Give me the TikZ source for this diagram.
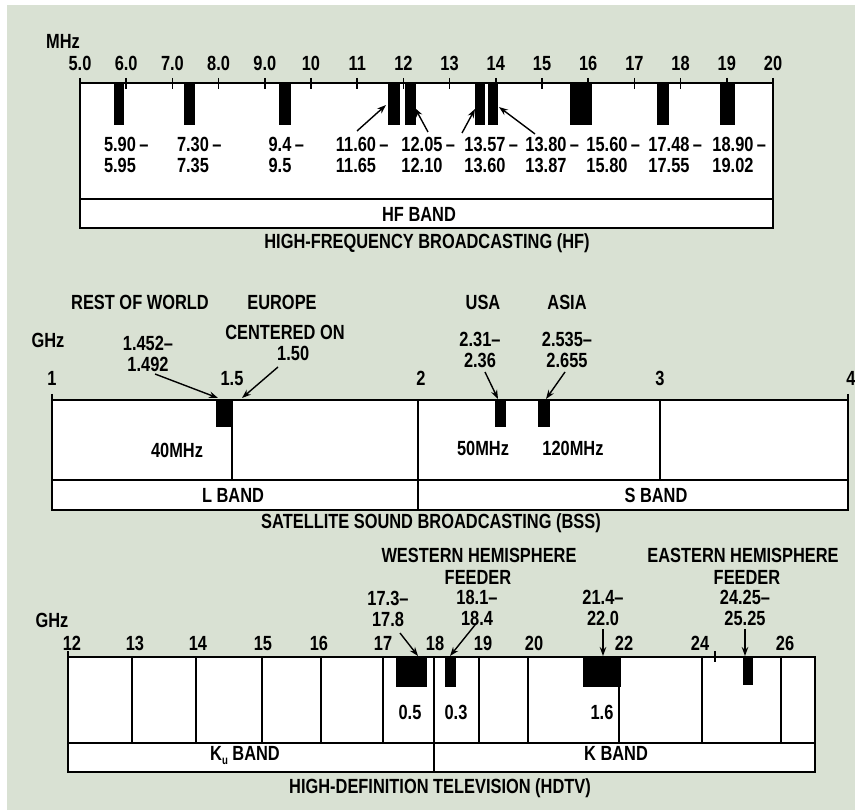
\documentclass[tikz,border=0pt]{standalone}
\usepackage{fontspec}
\setmainfont{Liberation Sans}[FakeStretch=0.8]
\usetikzlibrary{arrows.meta}
\definecolor{bg}{HTML}{D9E1D3}
\begin{document}
\begin{tikzpicture}[x=1pt,y=-1pt,
  lbl/.style={font=\bfseries\fontsize{20.5}{20.5}\selectfont, inner sep=0pt, align=center},
  tl/.style={lbl, anchor=base, yshift=-7.4pt},
  box/.style={draw, line width=2.2pt, fill=white},
  vl/.style={line width=1.6pt},
  bar/.style={fill=black},
  arr/.style={line width=1.4pt, -{Stealth[length=9pt,width=6.5pt]}},
  tk/.style={line width=1.6pt}]
\useasboundingbox (0,0) rectangle (855,810);
\fill[white] (0,0) rectangle (855,810);
\fill[bg] (7,5) rectangle (855,810);

% ---------------- HF panel ----------------
\draw[box] (80,83) rectangle (773,228);
\draw[vl] (80,199) -- (773,199);
\foreach \i in {0,...,15} \draw[tk] ({80+46.2*\i},78) -- ({80+46.2*\i},89);
\node[tl] (mhz) at (63,41) {MHz};
\foreach \t [count=\i from 0] in {5.0,6.0,7.0,8.0,9.0,10,11,12,13,14,15,16,17,18,19,20}
  \node[tl] (ht\i) at ({80+46.2*\i},63) {\t};
\foreach \a/\b in {114/124,184/195,279/291,388/400,405/416,475/485,488/498,570/592,657/669,720/735}
  \fill[bar] (\a,83) rectangle (\b,125);
\node[lbl] (hl1) at (120,155) {5.90\rlap{\,–}\\5.95};
\node[lbl] (hl2) at (193,155) {7.30\rlap{\,–}\\7.35};
\node[lbl] (hl3) at (280,155) {9.4\rlap{\,–}\\9.5};
\node[lbl] (hl4) at (356,155) {11.60\rlap{\,–}\\11.65};
\node[lbl] (hl5) at (422,155) {12.05\rlap{\,–}\\12.10};
\node[lbl] (hl6) at (485,155) {13.57\rlap{\,–}\\13.60};
\node[lbl] (hl7) at (546,155) {13.80\rlap{\,–}\\13.87};
\node[lbl] (hl8) at (607,155) {15.60\rlap{\,–}\\15.80};
\node[lbl] (hl9) at (669,155) {17.48\rlap{\,–}\\17.55};
\node[lbl] (hl10) at (733,155) {18.90\rlap{\,–}\\19.02};
\coordinate (h4s) at (357,131); \coordinate (h4e) at (386,105);
\coordinate (h5s) at (428,132); \coordinate (h5e) at (415,108);
\coordinate (h6s) at (462,133); \coordinate (h6e) at (475,109);
\coordinate (h7s) at (535,134); \coordinate (h7e) at (499,107);
\draw[arr] (h4s) -- (h4e);
\draw[arr] (h5s) -- (h5e);
\draw[arr] (h6s) -- (h6e);
\draw[arr] (h7s) -- (h7e);
\node[tl] (hfband) at (419,214) {HF BAND};
\node[tl] (hfcap) at (427,241) {HIGH-FREQUENCY BROADCASTING (HF)};

% ---------------- BSS panel ----------------
\draw[box] (52,400) rectangle (848,510);
\draw[vl] (52,480) -- (848,480);
\draw[vl] (232,400) -- (232,480);
\draw[vl] (418,400) -- (418,510);
\draw[vl] (660,400) -- (660,480);
\draw[tk] (52,394) -- (52,400);
\draw[tk] (848,394) -- (848,400);
\node[tl] (g1) at (52,378) {1};
\node[tl] (g15) at (232,378) {1.5};
\node[tl] (g2) at (421,378) {2};
\node[tl] (g3) at (660,378) {3};
\node[tl] (g4) at (851,378) {4};
\node[tl] (ghz1) at (48,340) {GHz};
\fill[bar] (216,400) rectangle (232,427);
\fill[bar] (495,400) rectangle (506,427);
\fill[bar] (538,400) rectangle (550,427);
\node[tl] (row) at (140,302) {REST OF WORLD};
\node[tl] (eur) at (282,302) {EUROPE};
\node[tl] (usa) at (483,302) {USA};
\node[tl] (asia) at (567,302) {ASIA};
\node[lbl] (b1) at (148,354) {1.452–\\1.492};
\node[lbl] (b2) at (285,343) {CENTERED ON\\\hspace*{0.8em}1.50};
\node[lbl] (b3) at (480,350) {2.31–\\2.36};
\node[lbl] (b4) at (567,350) {2.535–\\2.655};
\coordinate (b1s) at (155,374); \coordinate (b1e) at (218,398);
\coordinate (b2s) at (278,367); \coordinate (b2e) at (242,398);
\coordinate (b3s) at (485,372); \coordinate (b3e) at (498,399);
\coordinate (b4s) at (565,372); \coordinate (b4e) at (546,399);
\draw[arr] (b1s) -- (b1e);
\draw[arr] (b2s) -- (b2e);
\draw[arr] (b3s) -- (b3e);
\draw[arr] (b4s) -- (b4e);
\node[tl] (m40) at (177,450) {40MHz};
\node[tl] (m50) at (483,448) {50MHz};
\node[tl] (m120) at (573,448) {120MHz};
\node[tl] (lband) at (233,495) {L BAND};
\node[tl] (sband) at (656,495) {S BAND};
\node[tl] (bsscap) at (431,521) {SATELLITE SOUND BROADCASTING (BSS)};

% ---------------- HDTV panel ----------------
\draw[box] (68,657) rectangle (815,772);
\draw[vl] (68,743) -- (815,743);
\foreach \x in {132,196,262,321,383,479,528,619,702,781}
  \draw[vl] (\x,657) -- (\x,743);
\draw[vl] (434,657) -- (434,772);
\draw[tk] (715,651) -- (715,662);
\draw[tk] (68,651) -- (68,657);
\foreach \t/\x in {12/72,13/135,14/198,15/263,16/319,17/383,18/435,19/483,20/534,22/624,24/700,26/785}
  \node[tl] (kt\t) at (\x,643) {\t};
\node[tl] (ghz2) at (52,620) {GHz};
\fill[bar] (396,657) rectangle (427,687);
\fill[bar] (445,657) rectangle (456,687);
\fill[bar] (583,657) rectangle (621,687);
\fill[bar] (743,657) rectangle (753,685);
\node[tl] (whem) at (479,555) {WESTERN HEMISPHERE};
\node[tl] (wfeed) at (478,577) {FEEDER};
\node[tl] (ehem) at (743,555) {EASTERN HEMISPHERE};
\node[tl] (efeed) at (747,577) {FEEDER};
\node[lbl] (k1) at (388,609) {17.3–\\17.8};
\node[lbl] (k2) at (477,608) {18.1–\\18.4};
\node[lbl] (k3) at (603,608) {21.4–\\22.0};
\node[lbl] (k4) at (745,608) {24.25–\\25.25};
\coordinate (k1s) at (400,633); \coordinate (k1e) at (418,656);
\coordinate (k2s) at (475,625); \coordinate (k2e) at (450,656);
\coordinate (k3s) at (603,629); \coordinate (k3e) at (603,656);
\coordinate (k4s) at (745,629); \coordinate (k4e) at (745,656);
\draw[arr] (k1s) -- (k1e);
\draw[arr] (k2s) -- (k2e);
\draw[arr] (k3s) -- (k3e);
\draw[arr] (k4s) -- (k4e);
\node[tl] (v05) at (410,712) {0.5};
\node[tl] (v03) at (456,712) {0.3};
\node[tl] (v16) at (602,712) {1.6};
\node[tl] (kuband) at (245,753) {K\raisebox{-0.4ex}{\fontsize{12}{12}\selectfont u} BAND};
\node[tl] (kband) at (616,753) {K BAND};
\node[tl] (hdcap) at (440,786) {HIGH-DEFINITION TELEVISION (HDTV)};
\end{tikzpicture}
\end{document}
